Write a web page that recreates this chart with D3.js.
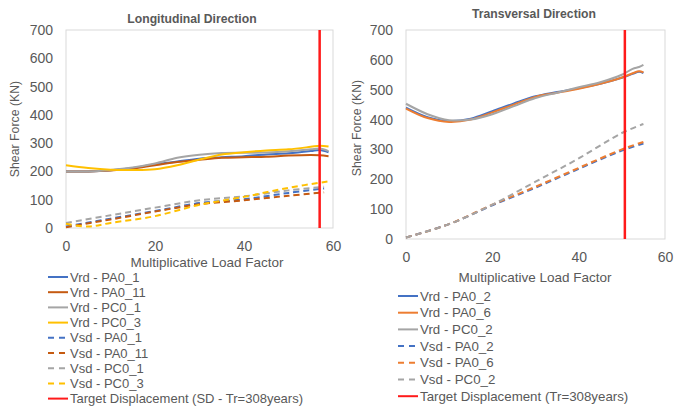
<!DOCTYPE html>
<html>
<head>
<meta charset="utf-8">
<script src="https://cdn.jsdelivr.net/npm/d3@7/dist/d3.min.js"></script>
<style>
  html, body { margin: 0; padding: 0; background: #fff; }
  svg { display: block; font-family: "Liberation Sans", Arial, sans-serif; }
</style>
</head>
<body>
<svg id="chart" width="675" height="408"></svg>
<script>
// ---------- Longitudinal direction ----------
const longTitle = "Longitudinal Direction";
const longVrdX = [0, 5, 10, 15, 20, 25, 30, 35, 40, 45, 50, 55, 57, 59];
const longVrdPA0_1  = [200, 200, 204, 212, 225, 235, 245, 250, 254, 260, 264, 272, 276, 268];
const longVrdPA0_11 = [200, 200, 203, 210, 222, 233, 241, 248, 250, 252, 256, 258, 257, 254];
const longVrdPC0_1  = [200, 200, 205, 214, 228, 248, 259, 265, 266, 267, 271, 278, 281, 272];
const longVrdPC0_3  = [222, 212, 206, 205, 208, 222, 242, 260, 268, 274, 278, 287, 291, 288];
const longVsdX = [0, 10, 20, 30, 40, 50, 58];
const longVsdPA0_1  = [5, 33, 60, 88, 102, 124, 140];
const longVsdPA0_11 = [3, 30, 58, 84, 98, 114, 126];
const longVsdPC0_1  = [18, 45, 72, 98, 112, 133, 146];
const longVsdPC0_3X = [0, 5, 10, 20, 30, 40, 50, 59];
const longVsdPC0_3  = [15, 5, 18, 42, 82, 110, 142, 165];
const longTarget = 57;
const longTargetLabel = "Target Displacement (SD - Tr=308years)";

// ---------- Transversal direction ----------
const transTitle = "Transversal Direction";
const transVrdX = [0, 5, 10, 15, 20, 25, 30, 35, 40, 45, 50, 52.5, 54, 55];
const transVrdPA0_2 = [440, 408, 395, 403, 428, 454, 478, 492, 505, 520, 540, 553, 560, 556];
const transVrdPA0_6 = [437, 405, 392, 400, 424, 450, 476, 490, 503, 520, 541, 555, 562, 558];
const transVrdPC0_2 = [453, 418, 398, 400, 418, 445, 472, 490, 508, 525, 550, 570, 576, 583];
const transVsdX = [0, 10, 20, 30, 40, 50, 55];
const transVsdPA0_2 = [5, 50, 113, 172, 235, 296, 320];
const transVsdPA0_6 = [5, 50, 115, 175, 238, 300, 325];
const transVsdPC0_2 = [5, 50, 115, 192, 270, 355, 385];
const transTarget = 50.7;
const transTargetLabel = "Target Displacement (Tr=308years)";

// ---------- shared axis settings ----------
const xTicks = [0, 20, 40, 60];
const yTicks = [0, 100, 200, 300, 400, 500, 600, 700];
const xDomain = [0, 60];
const yDomain = [0, 700];
const xTitle = "Multiplicative Load Factor";
const yTitle = "Shear Force (KN)";

const C = {
  blue: "#4472C4", brown: "#C55A11", orange: "#ED7D31",
  gray: "#A5A5A5", yellow: "#FFC000", red: "#FF1A1A"
};

const zip = (xs, ys) => xs.map((x, i) => [x, ys[i]]);

const panels = [
  {
    title: longTitle, titleX: 192, titleY: 23,
    left: 66, right: 333, top: 30, bottom: 228,
    xTitleX: 207, xTitleY: 267, yTitleX: 15, yTitleY: 129,
    target: longTarget,
    legendX: 48, legendY: 277, legendStep: 15.2, legendFont: 13,
    series: [
      { name: "Vrd - PA0_1",  pts: zip(longVrdX, longVrdPA0_1),  color: C.blue,   dash: null },
      { name: "Vrd - PA0_11", pts: zip(longVrdX, longVrdPA0_11), color: C.brown,  dash: null },
      { name: "Vrd - PC0_1",  pts: zip(longVrdX, longVrdPC0_1),  color: C.gray,   dash: null },
      { name: "Vrd - PC0_3",  pts: zip(longVrdX, longVrdPC0_3),  color: C.yellow, dash: null },
      { name: "Vsd - PA0_1",  pts: zip(longVsdX, longVsdPA0_1),  color: C.blue,   dash: "6,4" },
      { name: "Vsd - PA0_11", pts: zip(longVsdX, longVsdPA0_11), color: C.brown,  dash: "6,4" },
      { name: "Vsd - PC0_1",  pts: zip(longVsdX, longVsdPC0_1),  color: C.gray,   dash: "6,4" },
      { name: "Vsd - PC0_3",  pts: zip(longVsdPC0_3X, longVsdPC0_3), color: C.yellow, dash: "6,4" }
    ],
    targetLabel: longTargetLabel
  },
  {
    title: transTitle, titleX: 534, titleY: 18,
    left: 406, right: 665, top: 30, bottom: 239,
    xTitleX: 535, xTitleY: 282, yTitleX: 357, yTitleY: 128,
    target: transTarget,
    legendX: 398, legendY: 296, legendStep: 16.7, legendFont: 13.3,
    series: [
      { name: "Vrd - PA0_2", pts: zip(transVrdX, transVrdPA0_2), color: C.blue,   dash: null },
      { name: "Vrd - PA0_6", pts: zip(transVrdX, transVrdPA0_6), color: C.orange, dash: null },
      { name: "Vrd - PC0_2", pts: zip(transVrdX, transVrdPC0_2), color: C.gray,   dash: null },
      { name: "Vsd - PA0_2", pts: zip(transVsdX, transVsdPA0_2), color: C.blue,   dash: "6,4" },
      { name: "Vsd - PA0_6", pts: zip(transVsdX, transVsdPA0_6), color: C.orange, dash: "6,4" },
      { name: "Vsd - PC0_2", pts: zip(transVsdX, transVsdPC0_2), color: C.gray,   dash: "6,4" }
    ],
    targetLabel: transTargetLabel
  }
];

const svg = d3.select("#chart");
svg.append("rect").attr("width", 675).attr("height", 408).attr("fill", "#fff");

const textColor = "#595959";

panels.forEach(p => {
  const g = svg.append("g");
  const x = d3.scaleLinear().domain(xDomain).range([p.left, p.right]);
  const y = d3.scaleLinear().domain(yDomain).range([p.bottom, p.top]);

  // plot frame
  g.append("rect")
    .attr("x", p.left).attr("y", p.top)
    .attr("width", p.right - p.left).attr("height", p.bottom - p.top)
    .attr("fill", "none").attr("stroke", "#D9D9D9").attr("stroke-width", 1);

  // axes
  const yAxis = g.append("g").attr("transform", `translate(${p.left},0)`)
    .call(d3.axisLeft(y).tickValues(yTicks).tickSize(0).tickPadding(13));
  const xAxis = g.append("g").attr("transform", `translate(0,${p.bottom})`)
    .call(d3.axisBottom(x).tickValues(xTicks).tickSize(0).tickPadding(13));
  [yAxis, xAxis].forEach(a => {
    a.select(".domain").remove();
    a.selectAll("text").attr("fill", textColor).attr("font-size", 14)
      .attr("font-family", "Liberation Sans, Arial, sans-serif");
  });

  // series
  const line = d3.line().x(d => x(d[0])).y(d => y(d[1])).curve(d3.curveCatmullRom.alpha(0.5));
  p.series.forEach(s => {
    g.append("path").datum(s.pts)
      .attr("d", line)
      .attr("fill", "none")
      .attr("stroke", s.color)
      .attr("stroke-width", 2)
      .attr("stroke-dasharray", s.dash);
  });

  // target displacement marker
  g.append("line")
    .attr("x1", x(p.target)).attr("x2", x(p.target))
    .attr("y1", y(yDomain[0])).attr("y2", y(yDomain[1]))
    .attr("stroke", C.red).attr("stroke-width", 2.5);

  // titles
  g.append("text").attr("x", p.titleX).attr("y", p.titleY)
    .attr("text-anchor", "middle").attr("font-size", 12.2).attr("font-weight", "bold")
    .attr("fill", textColor).text(p.title);
  g.append("text").attr("x", p.xTitleX).attr("y", p.xTitleY)
    .attr("text-anchor", "middle").attr("font-size", 13.5)
    .attr("fill", textColor).text(xTitle);
  g.append("text")
    .attr("transform", `translate(${p.yTitleX},${p.yTitleY}) rotate(-90)`)
    .attr("text-anchor", "middle").attr("dy", "0.35em").attr("font-size", 12.3)
    .attr("fill", textColor).text(yTitle);

  // legend
  const entries = p.series.map(s => ({ name: s.name, color: s.color, dash: s.dash }))
    .concat([{ name: p.targetLabel, color: C.red, dash: null }]);
  const lg = g.append("g");
  entries.forEach((e, i) => {
    const yy = p.legendY + i * p.legendStep;
    lg.append("line")
      .attr("x1", p.legendX).attr("x2", p.legendX + 20)
      .attr("y1", yy).attr("y2", yy)
      .attr("stroke", e.color).attr("stroke-width", 2)
      .attr("stroke-dasharray", e.dash ? "6,5" : null);
    lg.append("text")
      .attr("x", p.legendX + 22).attr("y", yy).attr("dy", "0.35em")
      .attr("font-size", p.legendFont).attr("fill", textColor).text(e.name);
  });
});
</script>
</body>
</html>
